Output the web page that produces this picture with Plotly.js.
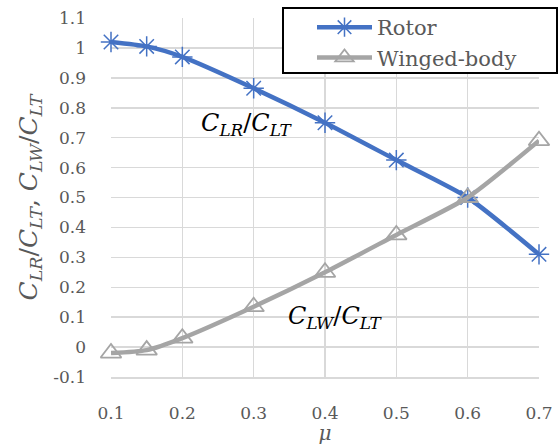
<!DOCTYPE html>
<html>
<head>
<meta charset="utf-8">
<script src="https://cdn.plot.ly/plotly-3.0.1.min.js"></script>
<style>html,body{margin:0;padding:0;background:#fff;}#chart{width:559px;height:445px;}</style>
</head>
<body>
<div id="chart"></div>
<script>
const mu = [0.1, 0.15, 0.2, 0.3, 0.4, 0.5, 0.6, 0.7];
const rotor = [1.02, 1.005, 0.97, 0.865, 0.75, 0.625, 0.5, 0.31];
const winged = [-0.02, -0.01, 0.03, 0.135, 0.25, 0.375, 0.5, 0.69];
const seriesNames = ["Rotor", "Winged-body"];
const xTicks = [0.1, 0.2, 0.3, 0.4, 0.5, 0.6, 0.7];
const xTickText = ["0.1", "0.2", "0.3", "0.4", "0.5", "0.6", "0.7"];
const yTicks = [-0.1, 0, 0.1, 0.2, 0.3, 0.4, 0.5, 0.6, 0.7, 0.8, 0.9, 1, 1.1];
const yTickText = ["-0.1", "0", "0.1", "0.2", "0.3", "0.4", "0.5", "0.6", "0.7", "0.8", "0.9", "1", "1.1"];

const serif = "'DejaVu Serif', 'Liberation Serif', serif";

const traces = [
  {
    x: mu, y: rotor, name: seriesNames[0], type: "scatter", mode: "lines+markers",
    line: {color: "#4472C4", width: 4.5, shape: "spline", smoothing: 0.6},
    marker: {symbol: "asterisk-open", size: 17, color: "#4472C4", line: {color: "#4472C4", width: 1.5}},
    cliponaxis: false
  },
  {
    x: mu, y: winged, name: seriesNames[1], type: "scatter", mode: "lines+markers",
    line: {color: "#A5A5A5", width: 4.5, shape: "spline", smoothing: 0.6},
    marker: {symbol: "triangle-up-open", size: 18, color: "#A5A5A5", line: {color: "#A5A5A5", width: 1.8}},
    cliponaxis: false
  }
];

const layout = {
  width: 559, height: 445,
  margin: {l: 111, r: 20, t: 18, b: 68, autoexpand: false},
  paper_bgcolor: "#fff", plot_bgcolor: "#fff",
  showlegend: true,
  legend: {
    x: (312 - 111) / 428, y: (377 - 7) / 359, xanchor: "left", yanchor: "top",
    bgcolor: "rgba(0,0,0,0)", borderwidth: 0,
    font: {family: serif, size: 21, color: "#595959"},
    itemwidth: 55, tracegroupgap: 0
  },
  shapes: [
    {type: "rect", xref: "paper", yref: "paper",
     x0: (283 - 111) / 428, x1: (557 - 111) / 428,
     y0: (377 - 73) / 359, y1: (377 - 8) / 359,
     fillcolor: "#fff", line: {color: "#000", width: 2}, layer: "above"}
  ],
  xaxis: {
    range: [0.1, 0.7], tickvals: xTicks, ticktext: xTickText,
    showgrid: true, gridcolor: "#D9D9D9", gridwidth: 1.5,
    zeroline: false, showline: true, linecolor: "#D9D9D9", linewidth: 1.5,
    ticks: "", ticklabelstandoff: 20,
    tickfont: {family: serif, size: 17, color: "#595959"},
    title: {text: "<i>μ</i>", font: {family: serif, size: 20, color: "#595959"}, standoff: 0}
  },
  yaxis: {
    range: [-0.1, 1.1], tickvals: yTicks, ticktext: yTickText,
    showgrid: true, gridcolor: "#D9D9D9", gridwidth: 1.5,
    zeroline: false, showline: false, ticks: "", ticklabelstandoff: 24,
    tickfont: {family: serif, size: 17, color: "#595959"},
    title: {text: "<i>C</i><sub><i>LR</i></sub>/<i>C</i><sub><i>LT</i></sub>, <i>C</i><sub><i>LW</i></sub>/<i>C</i><sub><i>LT</i></sub>",
      font: {family: serif, size: 25, color: "#595959"}, standoff: 8}
  },
  annotations: [
    {x: 0.29, y: 0.745, xref: "x", yref: "y", showarrow: false,
     text: "<i>C</i><sub><i>LR</i></sub>/<i>C</i><sub><i>LT</i></sub>",
     font: {family: serif, size: 24, color: "#000"}},
    {x: 0.415, y: 0.10, xref: "x", yref: "y", showarrow: false,
     text: "<i>C</i><sub><i>LW</i></sub>/<i>C</i><sub><i>LT</i></sub>",
     font: {family: serif, size: 24, color: "#000"}}
  ]
};

Plotly.newPlot("chart", traces, layout, {displayModeBar: false, staticPlot: true});
</script>
</body>
</html>
